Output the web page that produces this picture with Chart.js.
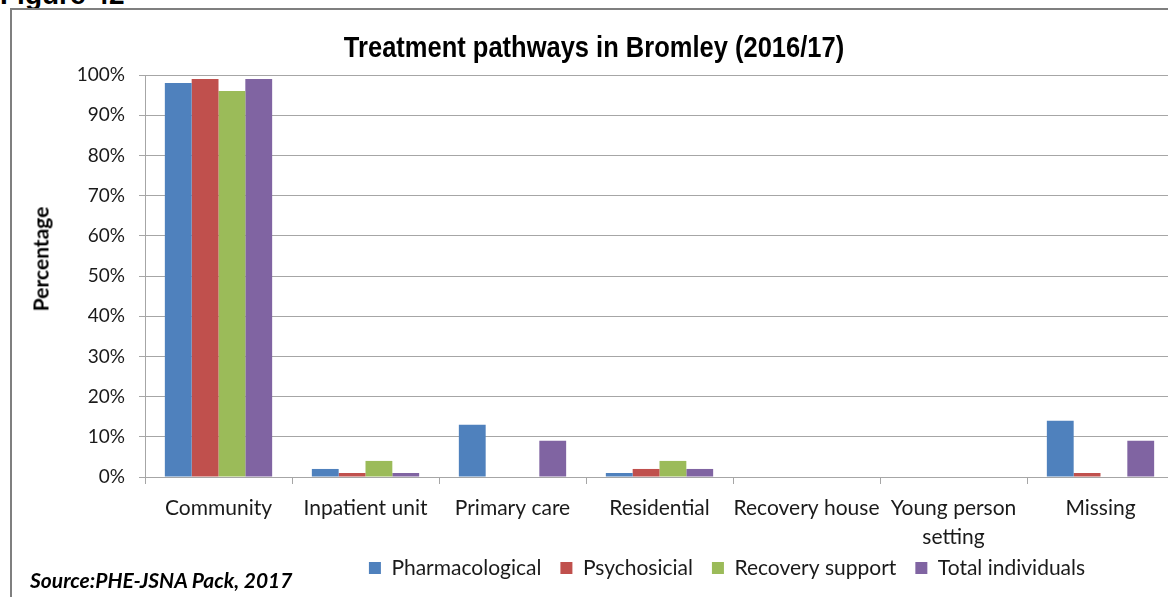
<!DOCTYPE html>
<html>
<head>
<meta charset="utf-8">
<script src="https://cdn.jsdelivr.net/npm/chart.js@4"></script>
<style>
  html, body { margin: 0; padding: 0; background: #fff; overflow: hidden; }
  #wrap { position: relative; width: 1168px; height: 597px; overflow: hidden; }
  #fig { position: absolute; left: 0; top: -21px; font: bold 28px 'Liberation Sans', Arial, sans-serif; color: #000; }
  #frame { position: absolute; left: 10px; top: 8px; width: 1200px; height: 640px; border: 2px solid #7f7f7f; }
  #chart { position: absolute; left: 0; top: 0; }
  #title { position: absolute; left: 0; top: 32px; width: 1188px; text-align: center; white-space: nowrap;
           font: bold 30px/30px 'Liberation Sans', Arial, sans-serif; color: #000;
           transform: scaleX(0.85); transform-origin: 594px 50%; }
  #ytitle { position: absolute; left: 40px; top: 259px; white-space: nowrap;
            font: bold 21px Lato, sans-serif; color: #000;
            transform: translate(-50%, -50%) rotate(-90deg); }
  #source { position: absolute; left: 30px; top: 567px; font: italic bold 21px Lato, sans-serif; color: #000; }
</style>
</head>
<body>
<div id="wrap">
  <div id="fig">Figure 42</div>
  <div id="frame"></div>
  <canvas id="chart" width="1180" height="597"></canvas>
  <div id="title">Treatment pathways in Bromley (2016/17)</div>
  <div id="ytitle">Percentage</div>
  <div id="source">Source:PHE-JSNA Pack, 2017</div>
</div>
<script>
// Treatment pathway categories and the share of each group in them (%)
const categories = ['Community', 'Inpatient unit', 'Primary care', 'Residential',
  'Recovery house', ['Young person', 'setting'], 'Missing'];
const pharmacological = [98, 2, 13, 1, 0, 0, 14];
const psychosocial = [99, 1, 0, 2, 0, 0, 1];
const recoverySupport = [96, 4, 0, 4, 0, 0, 0];
const totalIndividuals = [99, 1, 9, 2, 0, 0, 9];

const seriesNames = ['Pharmacological', 'Psychosicial', 'Recovery support', 'Total individuals'];
const seriesColors = ['#4f81bd', '#c0504d', '#9bbb59', '#8064a2'];

const GRID = '#a6a6a6';
const LEGEND_DX = 140;
const LEGEND_DY = -9.5;

// Move the legend off the default centred spot
const shiftLegend = {
  id: 'shiftLegend',
  afterLayout(chart) {
    const l = chart.legend;
    if (!l) return;
    l.left += LEGEND_DX; l.right += LEGEND_DX;
    l.top += LEGEND_DY; l.bottom += LEGEND_DY;
  }
};

const datasets = [pharmacological, psychosocial, recoverySupport, totalIndividuals].map((data, i) => ({
  label: seriesNames[i],
  data: data,
  backgroundColor: seriesColors[i],
  borderWidth: 0,
  categoryPercentage: 0.73,
  barPercentage: 1.0
}));

new Chart(document.getElementById('chart'), {
  type: 'bar',
  data: { labels: categories, datasets: datasets },
  plugins: [shiftLegend],
  options: {
    responsive: false,
    animation: false,
    layout: { padding: { left: 0, right: 6, top: 75, bottom: -1 } },
    plugins: {
      title: { display: false },
      legend: {
        position: 'bottom',
        labels: {
          boxWidth: 12,
          boxHeight: 12,
          padding: 19,
          color: '#1a1a1a',
          font: { family: 'Lato', size: 21 }
        }
      },
      tooltip: { enabled: false }
    },
    scales: {
      x: {
        afterFit: scale => { scale.height = 71; },
        grid: { drawOnChartArea: false, drawTicks: true, tickLength: 7, color: GRID },
        border: { display: true, color: GRID, width: 1 },
        ticks: {
          color: '#1a1a1a',
          padding: 9.5,
          maxRotation: 0,
          autoSkip: false,
          font: { family: 'Lato', size: 21, lineHeight: 1.38 }
        }
      },
      y: {
        min: 0,
        max: 100,
        afterFit: scale => { scale.width = 145; },
        grid: { color: GRID, tickLength: 6 },
        border: { display: true, color: GRID, width: 1 },
        ticks: {
          stepSize: 10,
          padding: 14,
          color: '#1a1a1a',
          font: { family: 'Lato', size: 19 },
          callback: v => v + '%'
        }
      }
    }
  }
});
</script>
</body>
</html>
